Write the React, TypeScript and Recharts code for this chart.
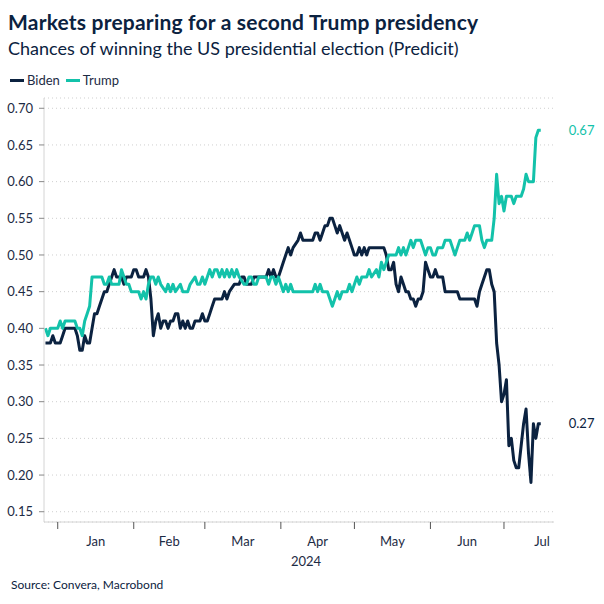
import React from 'react'
import { LineChart, Line, XAxis, YAxis, CartesianGrid } from 'recharts'

// days counted from 1 Jan 2024 (day 0)
const bidenDays = [
  -5, -3, -2, -1, 1, 2, 3, 7, 8, 9, 10, 11, 12, 13, 14, 15, 16, 17, 18, 19, 20, 21, 22, 23, 24, 26, 27, 28, 30, 31,
  32, 33, 35, 36, 37, 38, 39, 40, 41, 42, 43, 44, 45, 46, 47, 48, 49, 50, 51, 52, 53, 54, 55, 56, 58, 59, 60, 61, 62,
  63, 64, 67, 68, 69, 70, 72, 74, 75, 76, 77, 79, 80, 85, 86, 87, 88, 89, 90, 91, 92, 93, 94, 95, 96, 98, 99, 100,
  104, 105, 106, 107, 108, 109, 110, 111, 112, 113, 114, 115, 116, 117, 118, 119, 120, 121, 122, 123, 124, 125, 126,
  127, 133, 134, 135, 136, 137, 138, 139, 140, 141, 142, 143, 144, 145, 146, 147, 148, 149, 150, 151, 152, 153, 154,
  155, 157, 158, 163, 164, 170, 171, 172, 173, 174, 175, 176, 177, 178, 179, 180, 181, 182, 183, 184, 185, 186, 187,
  188, 189, 190, 191, 192, 193, 194, 195, 196, 197,
]
const bidenValues = [
  0.38, 0.38, 0.39, 0.38, 0.38, 0.39, 0.4, 0.4, 0.39, 0.37, 0.37, 0.39, 0.38, 0.38, 0.4, 0.42, 0.42, 0.43, 0.44, 0.45,
  0.45, 0.46, 0.47, 0.48, 0.47, 0.47, 0.46, 0.47, 0.47, 0.48, 0.48, 0.47, 0.47, 0.48, 0.47, 0.44, 0.39, 0.41, 0.42,
  0.4, 0.41, 0.41, 0.4, 0.41, 0.41, 0.42, 0.42, 0.4, 0.41, 0.4, 0.41, 0.4, 0.4, 0.41, 0.41, 0.42, 0.41, 0.41, 0.42,
  0.43, 0.44, 0.44, 0.45, 0.44, 0.45, 0.46, 0.46, 0.47, 0.47, 0.46, 0.46, 0.47, 0.47, 0.48, 0.47, 0.48, 0.47, 0.47,
  0.48, 0.49, 0.5, 0.51, 0.5, 0.51, 0.52, 0.53, 0.52, 0.52, 0.53, 0.53, 0.52, 0.53, 0.54, 0.54, 0.55, 0.55, 0.54,
  0.53, 0.54, 0.53, 0.52, 0.53, 0.52, 0.51, 0.5, 0.5, 0.51, 0.5, 0.51, 0.5, 0.51, 0.51, 0.5, 0.48, 0.48, 0.49, 0.46,
  0.45, 0.47, 0.46, 0.45, 0.45, 0.44, 0.44, 0.43, 0.44, 0.44, 0.45, 0.49, 0.48, 0.47, 0.47, 0.48, 0.47, 0.47, 0.45,
  0.45, 0.44, 0.44, 0.43, 0.45, 0.46, 0.47, 0.48, 0.48, 0.46, 0.45, 0.38, 0.35, 0.3, 0.31, 0.33, 0.24, 0.25, 0.22,
  0.21, 0.21, 0.24, 0.27, 0.29, 0.23, 0.19, 0.27, 0.25, 0.27, 0.27,
]

const trumpDays = [
  -5, -4, -3, 0, 1, 2, 3, 7, 8, 9, 10, 11, 12, 13, 14, 18, 19, 20, 21, 22, 25, 26, 27, 28, 29, 30, 33, 34, 35, 36, 37,
  38, 39, 40, 41, 42, 44, 45, 46, 47, 48, 50, 51, 53, 54, 56, 57, 58, 59, 60, 61, 62, 63, 64, 65, 66, 67, 68, 69, 70,
  71, 72, 73, 74, 76, 77, 78, 79, 80, 81, 82, 85, 86, 87, 88, 89, 90, 91, 92, 93, 94, 95, 96, 104, 105, 106, 107, 108,
  110, 111, 112, 113, 114, 115, 116, 118, 119, 120, 121, 122, 123, 124, 126, 127, 128, 130, 131, 132, 133, 134, 135,
  138, 139, 140, 141, 142, 143, 144, 145, 146, 148, 149, 150, 151, 152, 153, 154, 155, 157, 158, 160, 161, 162, 163,
  164, 166, 167, 168, 169, 170, 172, 173, 174, 175, 177, 178, 179, 180, 181, 182, 183, 185, 186, 187, 189, 190, 191,
  192, 194, 195, 196, 197,
]
const trumpValues = [
  0.4, 0.39, 0.4, 0.4, 0.41, 0.4, 0.41, 0.41, 0.4, 0.4, 0.39, 0.41, 0.42, 0.43, 0.47, 0.47, 0.46, 0.46, 0.47, 0.46,
  0.46, 0.48, 0.47, 0.46, 0.46, 0.45, 0.45, 0.44, 0.45, 0.44, 0.46, 0.47, 0.47, 0.46, 0.47, 0.46, 0.45, 0.46, 0.45,
  0.46, 0.45, 0.46, 0.45, 0.45, 0.46, 0.47, 0.46, 0.46, 0.47, 0.46, 0.47, 0.48, 0.47, 0.48, 0.48, 0.47, 0.48, 0.47,
  0.48, 0.47, 0.48, 0.47, 0.48, 0.47, 0.46, 0.46, 0.47, 0.47, 0.46, 0.46, 0.47, 0.47, 0.46, 0.47, 0.47, 0.46, 0.47,
  0.46, 0.45, 0.46, 0.45, 0.46, 0.45, 0.45, 0.46, 0.45, 0.46, 0.45, 0.45, 0.44, 0.43, 0.44, 0.45, 0.44, 0.45, 0.45,
  0.46, 0.45, 0.46, 0.47, 0.46, 0.47, 0.47, 0.48, 0.47, 0.48, 0.47, 0.49, 0.48, 0.49, 0.5, 0.5, 0.51, 0.5, 0.51, 0.5,
  0.51, 0.52, 0.51, 0.52, 0.52, 0.51, 0.5, 0.51, 0.51, 0.5, 0.5, 0.51, 0.51, 0.52, 0.52, 0.51, 0.5, 0.51, 0.52, 0.52,
  0.53, 0.52, 0.53, 0.54, 0.54, 0.52, 0.51, 0.52, 0.52, 0.55, 0.61, 0.57, 0.58, 0.56, 0.58, 0.58, 0.57, 0.58, 0.58,
  0.59, 0.61, 0.6, 0.6, 0.66, 0.67, 0.67,
]

const yTicks = [0.15, 0.2, 0.25, 0.3, 0.35, 0.4, 0.45, 0.5, 0.55, 0.6, 0.65, 0.7]
const monthStarts = [0, 31, 60, 91, 121, 152, 182]
const monthMids = [15.5, 45.5, 75.5, 106, 136.5, 167, 197.5]
const monthNames = ['Jan', 'Feb', 'Mar', 'Apr', 'May', 'Jun', 'Jul']

const NAVY = '#0b2240'
const TEAL = '#13c2aa'
const TEXT = '#1d2b44'
const FONT = 'Lato, "Open Sans", sans-serif'

// axis 0 carries the month-start tick marks, axis 1 the month names below them
const TICK_AXIS = 0
const LABEL_AXIS = 1

// one row per day, both series side by side
const rows = new Map<number, { day: number; biden?: number; trump?: number }>()
bidenDays.forEach((d, i) => {
  const r = rows.get(d) || { day: d }
  r.biden = bidenValues[i]
  rows.set(d, r)
})
trumpDays.forEach((d, i) => {
  const r = rows.get(d) || { day: d }
  r.trump = trumpValues[i]
  rows.set(d, r)
})
const chartData = Array.from(rows.values()).sort((a, b) => a.day - b.day)

const endLabel = (color: string) => (props: any) => {
  const { x, y, index, value } = props
  if (index !== chartData.length - 1 || value == null) return null
  return (
    <text x={x + 28} y={y} dy={4.5} fill={color} fontSize={13} fontFamily={FONT}>
      {Number(value).toFixed(2)}
    </text>
  )
}

const EmptyTick = () => <g />

export default function App() {
  return (
    <div style={{ position: 'absolute', left: 0, top: 0, width: 604, height: 604, background: '#fff', fontFamily: FONT, color: TEXT }}>
      <div style={{ position: 'absolute', left: 8, top: 9, fontSize: 21, fontWeight: 700, letterSpacing: 0.2, color: NAVY, lineHeight: '26px', whiteSpace: 'nowrap' }}>
        Markets preparing for a second Trump presidency
      </div>
      <div style={{ position: 'absolute', left: 8, top: 36, fontSize: 18, color: NAVY, lineHeight: '24px', whiteSpace: 'nowrap' }}>
        Chances of winning the US presidential election (Predicit)
      </div>
      <div style={{ position: 'absolute', left: 10, top: 71, fontSize: 13, lineHeight: '18px', display: 'flex', alignItems: 'center', color: TEXT }}>
        <span style={{ display: 'inline-block', width: 14, height: 3, background: NAVY, marginRight: 3 }} />
        <span style={{ marginRight: 6 }}>Biden</span>
        <span style={{ display: 'inline-block', width: 14, height: 3, background: TEAL, marginRight: 3 }} />
        <span>Trump</span>
      </div>

      <div style={{ position: 'absolute', left: 0, top: 0 }}>
        <LineChart width={604} height={604} data={chartData} margin={{ top: 98, right: 50, bottom: 0, left: 0 }}>
          <CartesianGrid xAxisId={TICK_AXIS} vertical={false} stroke="#cfcfcf" strokeDasharray="1 3" />
          <XAxis
            xAxisId={TICK_AXIS}
            type="number"
            dataKey="day"
            domain={[-5.6, 202.4]}
            ticks={monthStarts}
            tick={EmptyTick}
            tickSize={7}
            tickLine={{ stroke: '#555' }}
            axisLine={{ stroke: '#d4d4d4' }}
            height={1}
            interval={0}
            allowDataOverflow
          />
          <XAxis
            xAxisId={LABEL_AXIS}
            type="number"
            dataKey="day"
            domain={[-5.6, 202.4]}
            ticks={monthMids}
            tickFormatter={(v: number) => monthNames[monthMids.indexOf(v)]}
            tick={{ fontSize: 13, fill: TEXT, fontFamily: FONT }}
            tickLine={false}
            axisLine={false}
            tickSize={0}
            tickMargin={14}
            height={81}
            interval={0}
            allowDataOverflow
            label={{ value: '2024', position: 'insideBottom', offset: 38, dx: 7, fontSize: 13, fill: TEXT, fontFamily: FONT }}
          />
          <YAxis
            type="number"
            domain={[0.136, 0.714]}
            ticks={yTicks}
            tickFormatter={(v: number) => v.toFixed(2)}
            tick={{ fontSize: 13, fill: TEXT, fontFamily: FONT }}
            tickLine={{ stroke: '#888' }}
            tickSize={5}
            tickMargin={6}
            axisLine={{ stroke: '#d4d4d4' }}
            width={44}
            interval={0}
            allowDataOverflow
          />
          <Line
            xAxisId={TICK_AXIS}
            type="linear"
            dataKey="biden"
            stroke={NAVY}
            strokeWidth={3}
            dot={false}
            connectNulls
            isAnimationActive={false}
            strokeLinejoin="round"
            label={endLabel(NAVY)}
          />
          <Line
            xAxisId={TICK_AXIS}
            type="linear"
            dataKey="trump"
            stroke={TEAL}
            strokeWidth={3}
            dot={false}
            connectNulls
            isAnimationActive={false}
            strokeLinejoin="round"
            label={endLabel(TEAL)}
          />
        </LineChart>
      </div>

      <div style={{ position: 'absolute', left: 11, top: 577, fontSize: 12, lineHeight: '16px', color: NAVY, whiteSpace: 'nowrap' }}>
        Source: Convera, Macrobond
      </div>
    </div>
  )
}
